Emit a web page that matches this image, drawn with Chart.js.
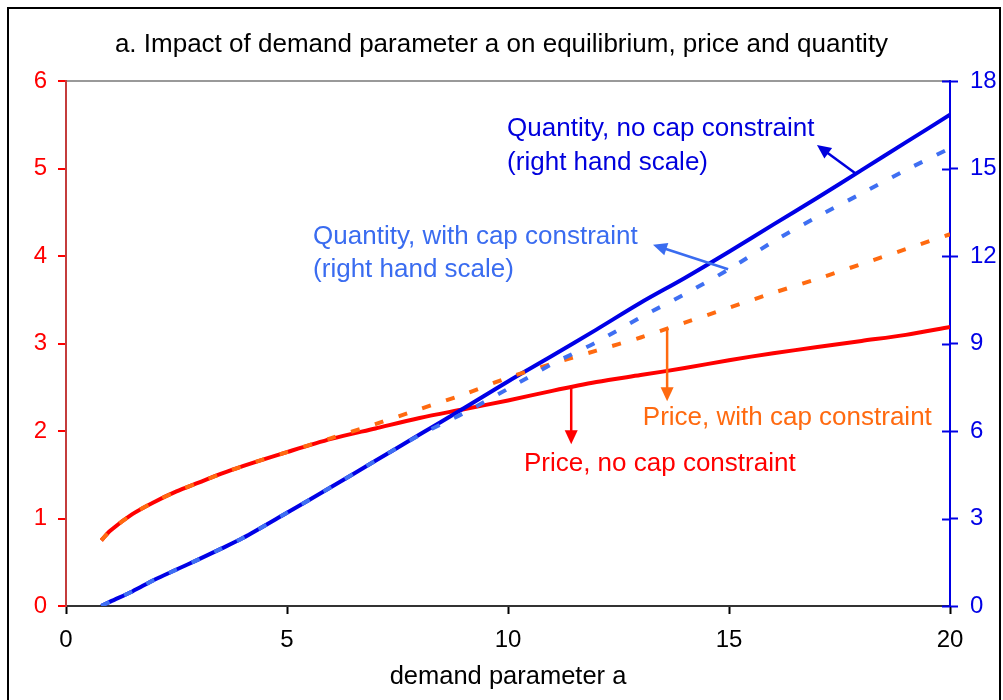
<!DOCTYPE html>
<html>
<head>
<meta charset="utf-8">
<script src="https://cdn.jsdelivr.net/npm/chart.js@4.4.1/dist/chart.umd.min.js"></script>
<style>
  html, body { margin: 0; padding: 0; background: #fff; }
  #wrap { position: relative; width: 1003px; height: 700px; overflow: hidden; }
  canvas { display: block; }
</style>
</head>
<body>
<div id="wrap"><canvas id="c" width="1003" height="700"></canvas></div>
<script>
// ---- data ----
const demandA     = [0.8, 1, 1.5, 2, 2.5, 3, 3.5, 4, 5, 6, 7, 8, 9, 10, 11, 12, 13, 14, 15, 16, 17, 18, 19, 20];
const priceNoCap  = [0.75, 0.86, 1.05, 1.19, 1.31, 1.41, 1.51, 1.60, 1.76, 1.91, 2.03, 2.15, 2.25, 2.35, 2.46, 2.56, 2.64, 2.72, 2.81, 2.89, 2.96, 3.03, 3.10, 3.19];
const priceCap    = [0.75, 0.86, 1.05, 1.19, 1.31, 1.41, 1.51, 1.60, 1.76, 1.92, 2.08, 2.25, 2.42, 2.61, 2.77, 2.92, 3.07, 3.24, 3.41, 3.58, 3.74, 3.91, 4.08, 4.25];
const qtyNoCap    = [0, 0.15, 0.5, 0.9, 1.25, 1.6, 1.96, 2.33, 3.2, 4.08, 4.98, 5.88, 6.78, 7.7, 8.58, 9.48, 10.4, 11.25, 12.15, 13.08, 14.0, 14.95, 15.9, 16.85];
const qtyCap      = [0, 0.15, 0.5, 0.9, 1.25, 1.6, 1.96, 2.33, 3.2, 4.08, 4.98, 5.86, 6.62, 7.45, 8.3, 9.05, 9.9, 10.7, 11.55, 12.5, 13.35, 14.15, 14.95, 15.7];
const xTicks      = [0, 5, 10, 15, 20];
const leftTicks   = [0, 1, 2, 3, 4, 5, 6];
const rightTicks  = [0, 3, 6, 9, 12, 15, 18];
const titleText   = "a. Impact of demand parameter a on equilibrium, price and quantity";
const xTitleText  = "demand parameter a";

const RED = '#ff0000', BLUE = '#0000e6', LBLUE = '#3f6ff2', ORANGE = '#ff6a10';
const FONT = '"Liberation Sans", Arial, sans-serif';

// annotations, anchored in data coordinates (x = a, y = left scale)
const notes = [
  { lines: ["Quantity, no cap constraint", "(right hand scale)"], color: '#0000dd',
    x: 9.98, ys: [5.46, 5.07], from: [17.85, 4.95], to: [16.99, 5.27] },
  { lines: ["Quantity, with cap constraint", "(right hand scale)"], color: '#3a6cf0',
    x: 5.59, ys: [4.22, 3.84], from: [14.98, 3.85], to: [13.28, 4.13] },
  { lines: ["Price, with cap constraint"], color: '#ff6a10',
    x: 13.05, ys: [2.15], from: [13.6, 3.18], to: [13.6, 2.34] },
  { lines: ["Price, no cap constraint"], color: '#ff0000',
    x: 10.36, ys: [1.63], from: [11.43, 2.50], to: [11.43, 1.85] }
];

const pts = (ys) => demandA.map((v, i) => ({ x: v, y: ys[i] }));

const notePlugin = {
  id: 'notes',
  afterDatasetsDraw(chart) {
    const ctx = chart.ctx, sx = chart.scales.x, sy = chart.scales.y, sr = chart.scales.y2;
    ctx.save();
    // inner halves of right-axis ticks
    ctx.strokeStyle = BLUE; ctx.lineWidth = 2;
    rightTicks.forEach(t => {
      const py = Math.round(sr.getPixelForValue(t)) + 0.5;
      ctx.beginPath(); ctx.moveTo(sr.left, py); ctx.lineTo(sr.left - 8, py); ctx.stroke();
    });
    // annotation text + arrows
    ctx.font = '26px ' + FONT;
    ctx.textBaseline = 'middle';
    ctx.textAlign = 'left';
    notes.forEach(n => {
      ctx.fillStyle = n.color;
      n.lines.forEach((t, i) => ctx.fillText(t, sx.getPixelForValue(n.x), sy.getPixelForValue(n.ys[i])));
      const x1 = sx.getPixelForValue(n.from[0]), y1 = sy.getPixelForValue(n.from[1]);
      const x2 = sx.getPixelForValue(n.to[0]), y2 = sy.getPixelForValue(n.to[1]);
      const ang = Math.atan2(y2 - y1, x2 - x1), L = 14, W = 6.5;
      ctx.strokeStyle = n.color; ctx.lineWidth = 2.5;
      ctx.beginPath(); ctx.moveTo(x1, y1);
      ctx.lineTo(x2 - Math.cos(ang) * L * 0.8, y2 - Math.sin(ang) * L * 0.8); ctx.stroke();
      ctx.beginPath();
      ctx.moveTo(x2, y2);
      ctx.lineTo(x2 - Math.cos(ang) * L + Math.sin(ang) * W, y2 - Math.sin(ang) * L - Math.cos(ang) * W);
      ctx.lineTo(x2 - Math.cos(ang) * L - Math.sin(ang) * W, y2 - Math.sin(ang) * L + Math.cos(ang) * W);
      ctx.closePath(); ctx.fill();
    });
    ctx.restore();
  },
  afterDraw(chart) {
    const ctx = chart.ctx;
    ctx.save();
    ctx.strokeStyle = '#000'; ctx.lineWidth = 2;
    ctx.strokeRect(8, 8, 992, 760);
    ctx.restore();
  }
};

new Chart(document.getElementById('c'), {
  type: 'scatter',
  data: {
    datasets: [
      { label: 'Quantity, with cap constraint', data: pts(qtyCap), yAxisID: 'y2',
        borderColor: LBLUE, borderWidth: 4, borderDash: [9, 16], showLine: true,
        pointRadius: 0, tension: 0.3, order: 1 },
      { label: 'Price, with cap constraint', data: pts(priceCap), yAxisID: 'y',
        borderColor: ORANGE, borderWidth: 4, borderDash: [9, 16], showLine: true,
        pointRadius: 0, tension: 0.3, order: 2 },
      { label: 'Quantity, no cap constraint', data: pts(qtyNoCap), yAxisID: 'y2',
        borderColor: BLUE, borderWidth: 4, showLine: true, pointRadius: 0, tension: 0.3, order: 3 },
      { label: 'Price, no cap constraint', data: pts(priceNoCap), yAxisID: 'y',
        borderColor: RED, borderWidth: 4, showLine: true, pointRadius: 0, tension: 0.3, order: 4 }
    ]
  },
  options: {
    responsive: false,
    animation: false,
    devicePixelRatio: 1,
    layout: { padding: { left: 0, right: 0, top: 0, bottom: 0 } },
    plugins: {
      legend: { display: false },
      tooltip: { enabled: false },
      title: { display: true, text: titleText, color: '#000',
        font: { family: FONT, size: 26, weight: 'normal' }, padding: { top: 29, bottom: 21 } }
    },
    scales: {
      x: {
        type: 'linear', position: 'bottom', min: 0, max: 20,
        afterBuildTicks: (s) => { s.ticks = xTicks.map(v => ({ value: v })); },
        afterFit: (s) => { s.height = 94; },
        ticks: { color: '#000', font: { family: FONT, size: 24 }, padding: 12, maxRotation: 0 },
        grid: { drawOnChartArea: false, tickColor: '#000', tickLength: 8, tickWidth: 2 },
        border: { color: '#333', width: 2 },
        title: { display: true, text: xTitleText, color: '#000',
          font: { family: FONT, size: 25.5 }, padding: { top: 0, bottom: 8 } }
      },
      y: {
        type: 'linear', position: 'left', min: 0, max: 6,
        afterBuildTicks: (s) => { s.ticks = leftTicks.map(v => ({ value: v })); },
        afterFit: (s) => { s.width = 66; },
        ticks: { color: RED, font: { family: FONT, size: 24 }, padding: 11 },
        grid: { color: (c) => (c.tick && c.tick.value === 6) ? '#999999' : 'rgba(0,0,0,0)',
          lineWidth: 2, tickColor: RED, tickLength: 8, tickWidth: 2 },
        border: { color: '#c43c3c', width: 2 }
      },
      y2: {
        type: 'linear', position: 'right', min: 0, max: 18,
        afterBuildTicks: (s) => { s.ticks = rightTicks.map(v => ({ value: v })); },
        afterFit: (s) => { s.width = 53; },
        ticks: { color: BLUE, font: { family: FONT, size: 24 }, padding: 12 },
        grid: { drawOnChartArea: false, tickColor: BLUE, tickLength: 8, tickWidth: 2 },
        border: { color: BLUE, width: 2 }
      }
    }
  },
  plugins: [notePlugin]
});
</script>
</body>
</html>
